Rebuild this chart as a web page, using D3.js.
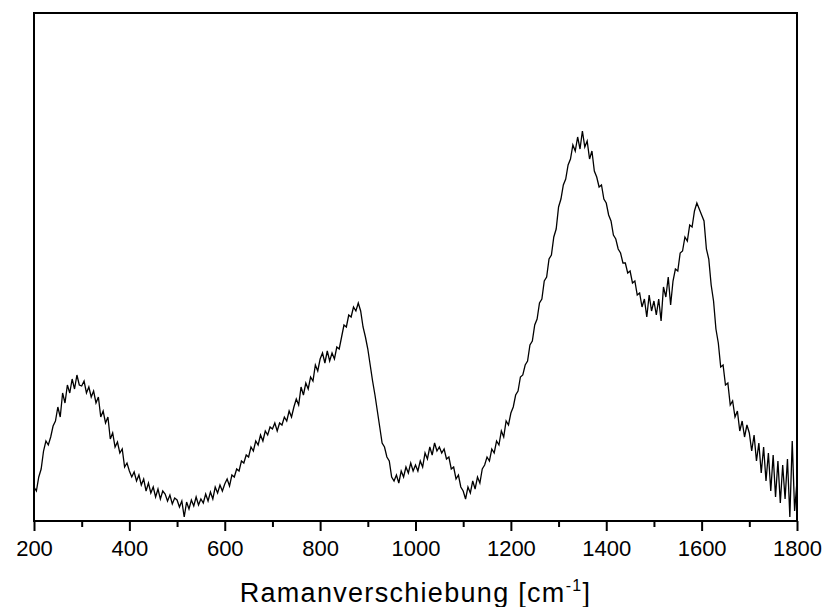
<!DOCTYPE html>
<html>
<head>
<meta charset="utf-8">
<script src="https://cdn.jsdelivr.net/npm/d3@7/dist/d3.min.js"></script>
<style>
  body { margin: 0; background: #fff; }
  text { font-family: "Liberation Sans", Arial, sans-serif; fill: #000; }
</style>
</head>
<body>
<script>
// Raman spectrum (arbitrary units), one value every 5 cm-1 from 200 to 1800
const wnStart = 200, wnEnd = 1800, wnStep = 5;
const intensity = [
    34, 30, 44, 52, 70, 80, 76, 84, 95, 100, 114, 104, 128, 118, 136, 128, 142, 132, 146, 136,
    135, 140, 128, 134, 124, 130, 118, 124, 104, 110, 98, 104, 82, 88, 74, 79, 68, 72, 54, 58,
    50, 44, 49, 40, 46, 36, 42, 30, 38, 28, 34, 24, 32, 22, 30, 27, 20, 26, 17, 23,
    21, 14, 20, 4, 19, 12, 21, 15, 24, 16, 22, 18, 27, 20, 29, 22, 34, 28, 36, 30,
    37, 42, 35, 46, 44, 52, 50, 60, 58, 66, 64, 74, 70, 80, 76, 86, 80, 90, 86, 94,
    92, 98, 90, 98, 96, 104, 100, 110, 104, 114, 122, 116, 134, 126, 138, 132, 144, 140, 156, 150,
    162, 168, 158, 170, 160, 168, 162, 174, 172, 184, 196, 194, 206, 204, 214, 210, 218, 210, 194, 184,
    172, 156, 140, 126, 110, 94, 78, 74, 64, 60, 44, 40, 46, 38, 50, 44, 54, 48, 58, 50,
    56, 50, 60, 54, 68, 62, 74, 66, 78, 70, 74, 68, 72, 62, 64, 52, 54, 42, 46, 34,
    30, 22, 34, 28, 40, 32, 44, 38, 52, 56, 64, 60, 72, 68, 80, 76, 90, 84, 100, 96,
    108, 114, 126, 130, 144, 146, 156, 160, 176, 180, 196, 202, 218, 222, 240, 244, 262, 266, 284, 292,
    314, 322, 336, 342, 356, 362, 376, 370, 384, 372, 390, 374, 380, 362, 370, 350, 344, 334, 336, 322,
    318, 306, 300, 286, 282, 272, 268, 258, 258, 248, 250, 238, 240, 226, 228, 214, 222, 204, 226, 210,
    220, 206, 222, 200, 234, 224, 244, 216, 240, 252, 250, 268, 270, 284, 280, 296, 294, 310, 318, 312,
    306, 300, 272, 262, 236, 220, 192, 178, 154, 156, 136, 138, 116, 120, 104, 110, 90, 100, 84, 96,
    88, 70, 86, 60, 78, 48, 74, 40, 68, 30, 66, 24, 60, 18, 56, 22, 62, 4, 80, 10,
    40
];
const majorTicks = [200, 400, 600, 800, 1000, 1200, 1400, 1600, 1800];
const minorTicks = [300, 500, 700, 900, 1100, 1300, 1500, 1700];
const yMax = 508;

const data = d3.range(wnStart, wnEnd + 1, wnStep).map((wn, i) => ({ wn: wn, v: intensity[i] }));

const width = 826, height = 607;
const margin = { top: 13, right: 29, bottom: 86, left: 34 };

const svg = d3.select("body").append("svg")
    .attr("width", width)
    .attr("height", height);

const x = d3.scaleLinear().domain([wnStart, wnEnd]).range([margin.left, width - margin.right]);
const y = d3.scaleLinear().domain([0, yMax]).range([height - margin.bottom, margin.top]);

svg.append("clipPath").attr("id", "plot")
  .append("rect")
    .attr("x", margin.left).attr("y", margin.top)
    .attr("width", width - margin.left - margin.right)
    .attr("height", height - margin.top - margin.bottom);

// spectrum
const line = d3.line().x(d => x(d.wn)).y(d => y(d.v));
svg.append("path")
    .datum(data)
    .attr("clip-path", "url(#plot)")
    .attr("fill", "none")
    .attr("stroke", "#000")
    .attr("stroke-width", 1.3)
    .attr("stroke-linejoin", "miter")
    .attr("d", line);

// bottom axis, major + minor ticks pointing out
const axisG = svg.append("g")
    .attr("transform", "translate(0," + (height - margin.bottom) + ")");

axisG.call(d3.axisBottom(x).tickValues(majorTicks).tickSize(10).tickSizeOuter(0).tickPadding(9).tickFormat(d3.format("d")))
    .call(g => g.select(".domain").remove())
    .call(g => g.selectAll(".tick line").attr("stroke-width", 2))
    .call(g => g.selectAll(".tick text").attr("font-size", 22).attr("font-family", null));

axisG.append("g")
    .call(d3.axisBottom(x).tickValues(minorTicks).tickSize(6).tickSizeOuter(0).tickFormat(""))
    .call(g => g.select(".domain").remove())
    .call(g => g.selectAll(".tick line").attr("stroke-width", 2));

// frame
svg.append("rect")
    .attr("x", margin.left).attr("y", margin.top)
    .attr("width", width - margin.left - margin.right)
    .attr("height", height - margin.top - margin.bottom)
    .attr("fill", "none")
    .attr("stroke", "#000")
    .attr("stroke-width", 2);

// axis title
const title = svg.append("text")
    .attr("x", (margin.left + width - margin.right) / 2)
    .attr("y", 602)
    .attr("text-anchor", "middle")
    .attr("font-size", 27)
    .attr("letter-spacing", 1.3);
title.append("tspan").text("Ramanverschiebung [cm");
title.append("tspan").attr("font-size", 16).attr("dy", -11).text("-1");
title.append("tspan").attr("dy", 11).text("]");
</script>
</body>
</html>
